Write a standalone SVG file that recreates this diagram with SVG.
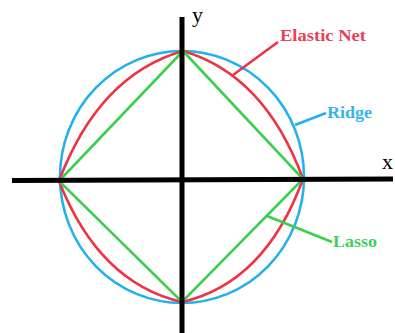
<svg xmlns="http://www.w3.org/2000/svg" width="395" height="333" viewBox="0 0 395 333">
<style>
.ax{stroke:#000;stroke-width:5;fill:none}
.blue{stroke:#22b1ec;stroke-width:2.6;fill:none}
.red{stroke:#ee3343;stroke-width:2.6;fill:none}
.green{stroke:#3ccf4e;stroke-width:2.6;fill:none}
.lbl{font-family:"Liberation Serif",serif;font-size:17px;font-weight:bold}
.axl{font-family:"Liberation Serif",serif;font-size:22px;fill:#000}
</style>
<rect width="395" height="333" fill="#fff"/>
<g id="ridge">
<ellipse class="blue" cx="182" cy="177" rx="122" ry="126"/>
</g>
<g id="elastic-net">
<path class="red" d="M183,51 Q265,75 303,179 Q265,283 182,302 Q99,283 59,181 Q99,75 183,51 Z"/>
</g>
<g id="lasso">
<path class="green" d="M183,51 L303,179 L182,302 L59,181 Z"/>
</g>
<g id="axes">
<line class="ax" x1="182" y1="17" x2="182" y2="333"/>
<line class="ax" x1="12" y1="180.5" x2="393" y2="179"/>
<text class="axl" x="192" y="22">y</text>
<text class="axl" x="382" y="169">x</text>
</g>
<g id="connectors">
<line class="red" x1="233" y1="75" x2="278" y2="42"/>
<line class="blue" x1="295" y1="125" x2="326" y2="113"/>
<line class="green" x1="267" y1="216" x2="332" y2="242"/>
</g>
<g id="label-elastic">
<text class="lbl" x="280" y="41" fill="#ea4057" textLength="86" lengthAdjust="spacingAndGlyphs">Elastic Net</text>
</g>
<g id="label-ridge">
<text class="lbl" x="327" y="118" fill="#36b4ee" textLength="45" lengthAdjust="spacingAndGlyphs">Ridge</text>
</g>
<g id="label-lasso">
<text class="lbl" x="333" y="247" fill="#3ccf5e" textLength="44" lengthAdjust="spacingAndGlyphs">Lasso</text>
</g>
</svg>
